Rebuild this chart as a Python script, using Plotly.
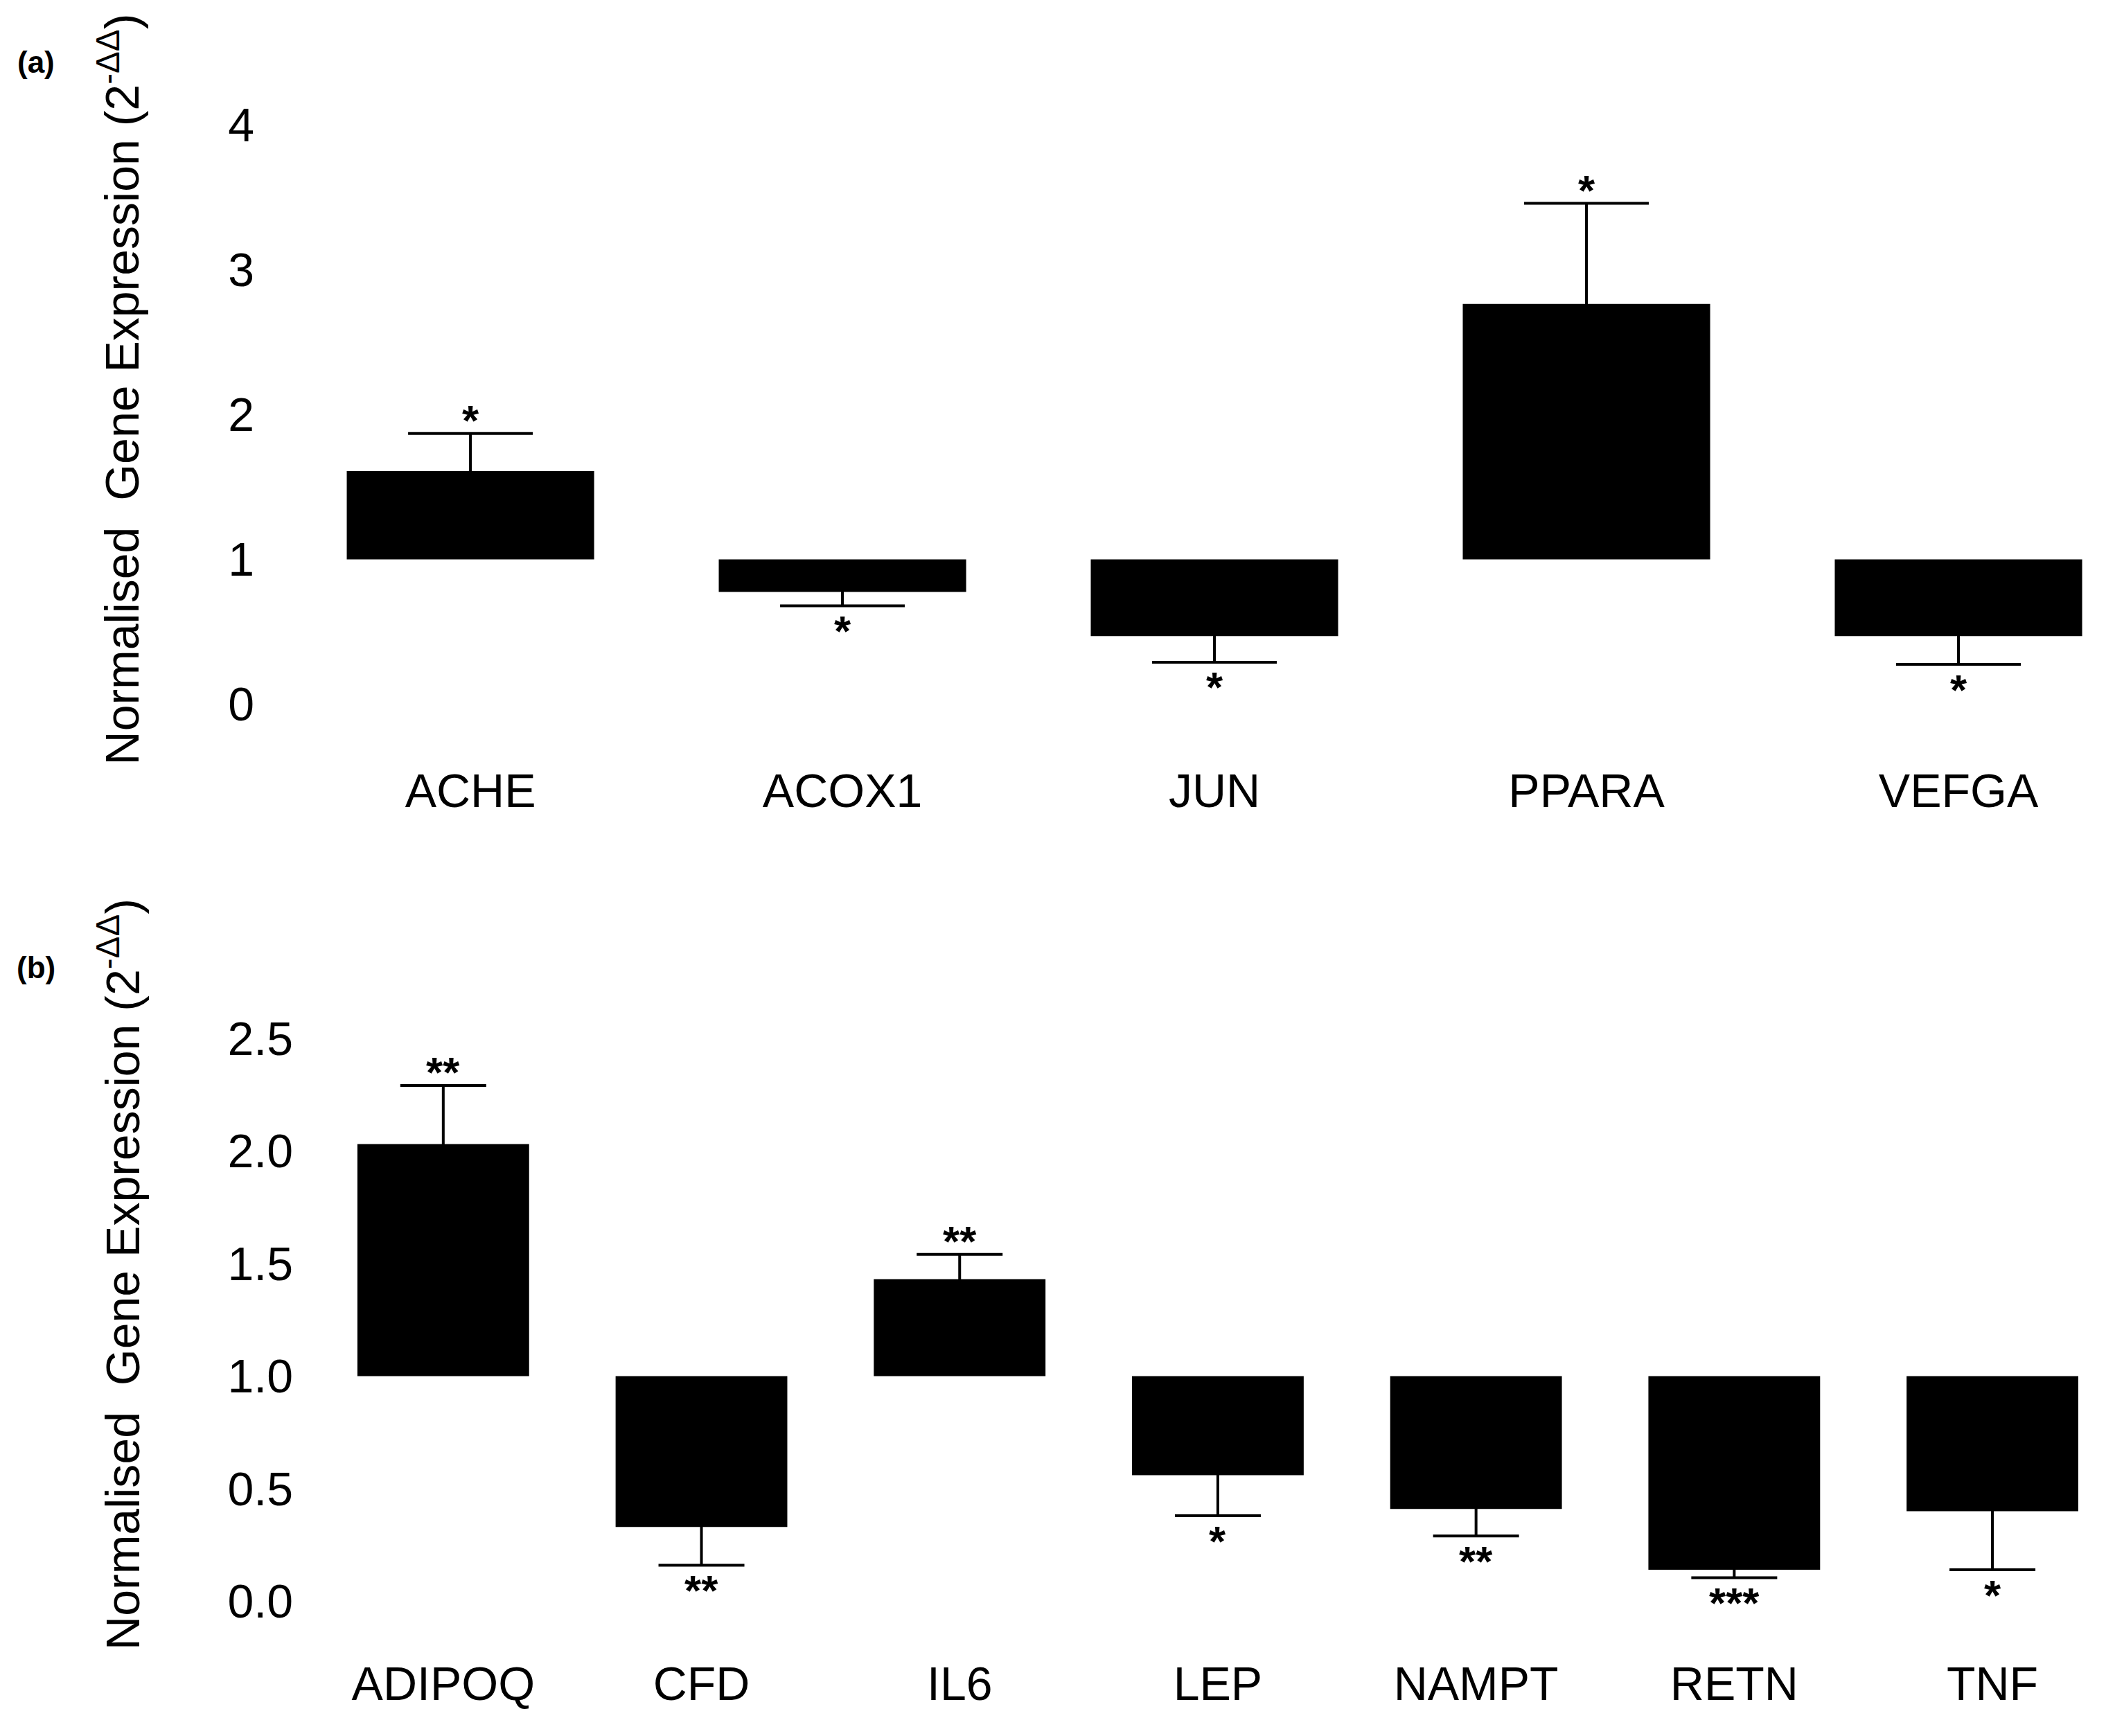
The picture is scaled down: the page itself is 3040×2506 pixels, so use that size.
import plotly.graph_objects as go

# ---------------- data ----------------
genes_a = ["ACHE", "ACOX1", "JUN", "PPARA", "VEFGA"]
expr_a = [1.61, 0.775, 0.47, 2.765, 0.47]
err_end_a = [1.87, 0.68, 0.29, 3.46, 0.275]
stars_a = ["*", "*", "*", "*", "*"]

genes_b = ["ADIPOQ", "CFD", "IL6", "LEP", "NAMPT", "RETN", "TNF"]
expr_b = [2.03, 0.33, 1.43, 0.56, 0.41, 0.14, 0.40]
err_end_b = [2.29, 0.16, 1.54, 0.38, 0.29, 0.105, 0.14]
stars_b = ["**", "**", "**", "*", "**", "***", "*"]

ticks_a = [0, 1, 2, 3, 4]
ticktext_a = ["0", "1", "2", "3", "4"]
ticks_b = [0, 0.5, 1.0, 1.5, 2.0, 2.5]
ticktext_b = ["0.0", "0.5", "1.0", "1.5", "2.0", "2.5"]

W, H = 3040, 2506
FONT = "Liberation Sans, Arial, sans-serif"
TITLE = "Normalised\u00a0 Gene Expression (2<sup>-\u0394\u0394</sup>)"
HIDE = 0.015  # keeps the unused error-bar end tucked inside the black bar

fig = go.Figure()


def add_panel(genes, vals, ends, stars, xa, ya, cap):
    # one-sided error bars, pointing away from the baseline of 1
    plus = [(e - v) if v > 1 else HIDE for v, e in zip(vals, ends)]
    minus = [(v - e) if v < 1 else HIDE for v, e in zip(vals, ends)]
    fig.add_trace(go.Bar(
        x=genes, y=[v - 1 for v in vals], base=1, width=0.665,
        marker=dict(color="black", line=dict(width=0)),
        error_y=dict(type="data", symmetric=False, array=plus, arrayminus=minus,
                     color="black", thickness=4, width=cap),
        xaxis=xa, yaxis=ya, showlegend=False, hoverinfo="skip"))
    for g, v, e, s in zip(genes, vals, ends, stars):
        up = v > 1
        fig.add_annotation(
            x=g, y=e, xref=xa, yref=ya, text=s, showarrow=False,
            xanchor="center", yanchor="middle",
            yshift=19 if up else -36,
            font=dict(family=FONT, size=62, color="black", weight="bold"))


add_panel(genes_a, expr_a, err_end_a, stars_a, "x", "y", 90)
add_panel(genes_b, expr_b, err_end_b, stars_b, "x2", "y2", 62)

axis_common = dict(showgrid=False, zeroline=False, showline=False, ticks="",
                   tickfont=dict(family=FONT, size=68, color="black"))

fig.update_layout(
    width=W, height=H,
    margin=dict(l=0, r=0, t=0, b=0),
    paper_bgcolor="white", plot_bgcolor="white",
    font=dict(family=FONT, color="black"),
    xaxis=dict(domain=[372 / W, 3022 / W], range=[-0.557, 4.378], anchor="y",
               type="category", **axis_common),
    yaxis=dict(domain=[1 - 1084 / H, 1 - 134.6 / H], range=[-0.38, 4.15], anchor="x",
               tickvals=ticks_a, ticktext=ticktext_a, ticklabelstandoff=12,
               **axis_common),
    xaxis2=dict(domain=[422 / W, 3022 / W], range=[-0.563, 6.413], anchor="y2",
                type="category", **axis_common),
    yaxis2=dict(domain=[1 - 2377 / H, 1 - 1452 / H], range=[-0.227, 2.61], anchor="x2",
                tickvals=ticks_b, ticktext=ticktext_b, ticklabelstandoff=6,
                **axis_common),
)

# y-axis titles
for yc in (549, 1830):
    fig.add_annotation(x=164 / W, y=1 - yc / H, xref="paper", yref="paper",
                       text=TITLE, textangle=-90, showarrow=False,
                       xanchor="center", yanchor="middle",
                       font=dict(family=FONT, size=68, color="black"))

# panel labels
for lab, yc in (("(a)", 75), ("(b)", 1385)):
    fig.add_annotation(x=44 / W, y=1 - yc / H, xref="paper", yref="paper",
                       text="<b>" + lab + "</b>", showarrow=False,
                       xanchor="center", yanchor="middle",
                       font=dict(family=FONT, size=44, color="black"))

fig.write_html("out.html")
